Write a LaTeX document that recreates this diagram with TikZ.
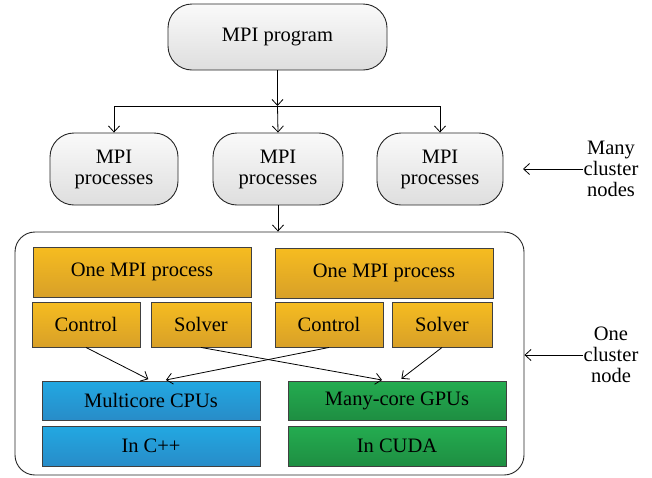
\documentclass[tikz,border=0pt]{standalone}
\usepackage{fontspec}
\setmainfont{Liberation Serif}
\usetikzlibrary{arrows.meta}
\definecolor{orTop}{RGB}{246,188,32}
\definecolor{orBot}{RGB}{216,160,40}
\definecolor{blTop}{RGB}{34,168,226}
\definecolor{blBot}{RGB}{40,140,200}
\definecolor{grTop}{RGB}{36,172,80}
\definecolor{grBot}{RGB}{30,142,66}
\definecolor{gyTop}{RGB}{250,250,250}
\definecolor{gyBot}{RGB}{222,222,222}
\begin{document}
\begin{tikzpicture}[x=1pt,y=-1pt,
  font=\fontsize{20.5}{21}\selectfont,
  grayrnd/.style={draw=black!85,line width=0.9pt,rounded corners=24pt,top color=gyTop,bottom color=gyBot,align=center,inner sep=0pt},
  orbox/.style={draw=black!75,line width=0.9pt,top color=orTop,bottom color=orBot,inner sep=0pt},
  bluebox/.style={draw=black!75,line width=0.9pt,top color=blTop,bottom color=blBot,inner sep=0pt},
  grnbox/.style={draw=black!75,line width=0.9pt,top color=grTop,bottom color=grBot,inner sep=0pt},
  arr/.style={-{Straight Barb[length=6pt,width=11pt]},line width=0.8pt},
  sidelab/.style={align=center,inner sep=0pt}
]
\useasboundingbox (0,0) rectangle (652,477);
% big cluster node box
\node[draw=black!85,line width=0.9pt,rounded corners=20pt,minimum width=509pt,minimum height=243pt,inner sep=0pt] (big) at (269.5,353.5) {};
% top
\node[grayrnd,minimum width=219pt,minimum height=66pt] (prog) at (277.5,37) {MPI program};
\node[grayrnd,minimum width=128pt,minimum height=72pt] (p1) at (114,169) {MPI\\processes};
\node[grayrnd,minimum width=130pt,minimum height=72pt] (p2) at (278,169) {MPI\\processes};
\node[grayrnd,minimum width=126pt,minimum height=72pt] (p3) at (440,169) {MPI\\processes};
\coordinate (split) at (277.5,106);
\draw[arr] (prog.south) -- (split);
\draw[line width=0.8pt] (p1.north |- split) -- (p3.north |- split);
\draw[arr] (p1.north |- split) -- (p1.north);
\draw[arr] (split) -- (p2.north);
\draw[arr] (p3.north |- split) -- (p3.north);
\draw[arr] (p2.south) -- (big.north -| p2.south);
% side labels
\node[sidelab] (lab1) at (611,169) {Many\\cluster\\nodes};
\coordinate (t1) at (523,169);
\draw[arr] (lab1.west) -- (t1);
\node[sidelab] (lab2) at (611,355) {One\\cluster\\node};
\draw[arr] (lab2.west) -- (big.east |- lab2.west);
% inside
\node[orbox,minimum width=218pt,minimum height=50pt] (one1) at (142,272) {One MPI process};
\node[orbox,minimum width=218pt,minimum height=50pt] (one2) at (384,273) {One MPI process};
\node[orbox,minimum width=108pt,minimum height=45pt] (c1) at (86,324.5) {Control};
\node[orbox,minimum width=100pt,minimum height=45pt] (s1) at (201,324.5) {Solver};
\node[orbox,minimum width=108pt,minimum height=45pt] (c2) at (329,324.5) {Control};
\node[orbox,minimum width=100pt,minimum height=45pt] (s2) at (442,324.5) {Solver};
\node[bluebox,minimum width=218pt,minimum height=39pt] (cpu) at (151,400.5) {Multicore CPUs};
\node[bluebox,minimum width=218pt,minimum height=40pt] (cpp) at (151,446) {In C++};
\node[grnbox,minimum width=218pt,minimum height=39pt] (gpu) at (397,400.5) {Many-core GPUs};
\node[grnbox,minimum width=218pt,minimum height=40pt] (cuda) at (397,446) {In CUDA};
% crossing arrows
\draw[arr,shorten >=3pt] (c1.south) -- (cpu.north);
\draw[arr,shorten >=3pt] (c2.south) -- ([xshift=12pt]cpu.north);
\draw[arr,shorten >=3pt] (s1.south) -- ([xshift=-12pt]gpu.north);
\draw[arr,shorten >=3pt] (s2.south) -- ([xshift=2pt]gpu.north);
\end{tikzpicture}
\end{document}
